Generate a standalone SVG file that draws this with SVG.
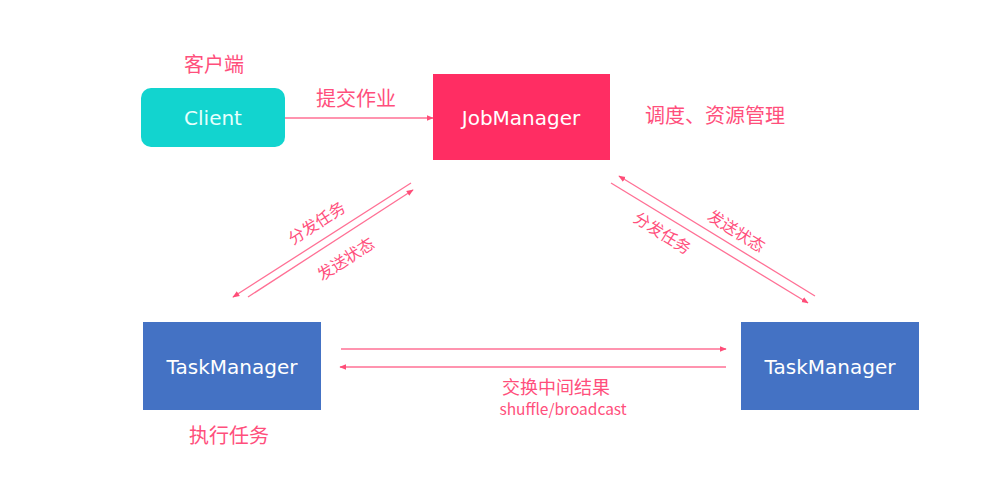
<svg xmlns="http://www.w3.org/2000/svg" width="984" height="504" viewBox="0 0 984 504">
<defs>
<marker id="ah" viewBox="0 0 10 10" refX="9" refY="5" markerWidth="7" markerHeight="7" orient="auto" markerUnits="userSpaceOnUse">
<path d="M0,1 L10,5 L0,9 z" fill="#FF4D78"/>
</marker>
<style>
.lbl{font-family:"Noto Sans CJK SC","Noto Sans",sans-serif;fill:#FF4F7C;text-anchor:middle;dominant-baseline:central}
.nt{font-family:"DejaVu Sans","Noto Sans",sans-serif;font-size:20px;text-anchor:middle;dominant-baseline:central}
.cn{stroke:#FF7095;stroke-width:1.3;fill:none;marker-end:url(#ah)}
</style>
</defs>
<rect width="984" height="504" fill="#FFFFFF"/>
<g id="client">
<rect x="141" y="88" width="144" height="59" rx="10" fill="#12D4CF"/>
<text class="nt" x="213" y="118" fill="#E6FFFD">Client</text>
<text class="lbl" x="214" y="63" font-size="20">客户端</text>
</g>
<g id="jobmanager">
<rect x="433" y="74" width="177" height="86" fill="#FF2D63"/>
<text class="nt" x="521" y="118" fill="#FFFFFF">JobManager</text>
<text class="lbl" x="715" y="114" font-size="20">调度、资源管理</text>
</g>
<g id="taskmanager-left">
<rect x="143" y="322" width="178" height="88" fill="#4472C4"/>
<text class="nt" x="232" y="367" fill="#FFFFFF">TaskManager</text>
<text class="lbl" x="229" y="434" font-size="20">执行任务</text>
</g>
<g id="taskmanager-right">
<rect x="741" y="322" width="178" height="88" fill="#4472C4"/>
<text class="nt" x="830" y="367" fill="#FFFFFF">TaskManager</text>
</g>
<g id="connectors">
<line class="cn" x1="285" y1="118" x2="433" y2="118"/>
<line class="cn" x1="411" y1="183" x2="233" y2="297"/>
<line class="cn" x1="248" y1="297" x2="413" y2="190"/>
<line class="cn" x1="815" y1="296" x2="619" y2="176"/>
<line class="cn" x1="611" y1="183" x2="808" y2="303"/>
<line class="cn" x1="341" y1="349" x2="726" y2="349"/>
<line class="cn" x1="726" y1="367" x2="340" y2="367"/>
<text class="lbl" x="356" y="97" font-size="20">提交作业</text>
<text class="lbl" x="316" y="222" font-size="16" transform="rotate(-33 316 222)">分发任务</text>
<text class="lbl" x="345" y="258" font-size="16" transform="rotate(-33 345 258)">发送状态</text>
<text class="lbl" x="737" y="230" font-size="16" transform="rotate(32 737 230)">发送状态</text>
<text class="lbl" x="663" y="232" font-size="16" transform="rotate(32 663 232)">分发任务</text>
<text class="lbl" x="556" y="386" font-size="18">交换中间结果</text>
<text class="lbl" x="563" y="408" font-size="15.5" font-family="Noto Sans,sans-serif">shuffle/broadcast</text>
</g>
</svg>
